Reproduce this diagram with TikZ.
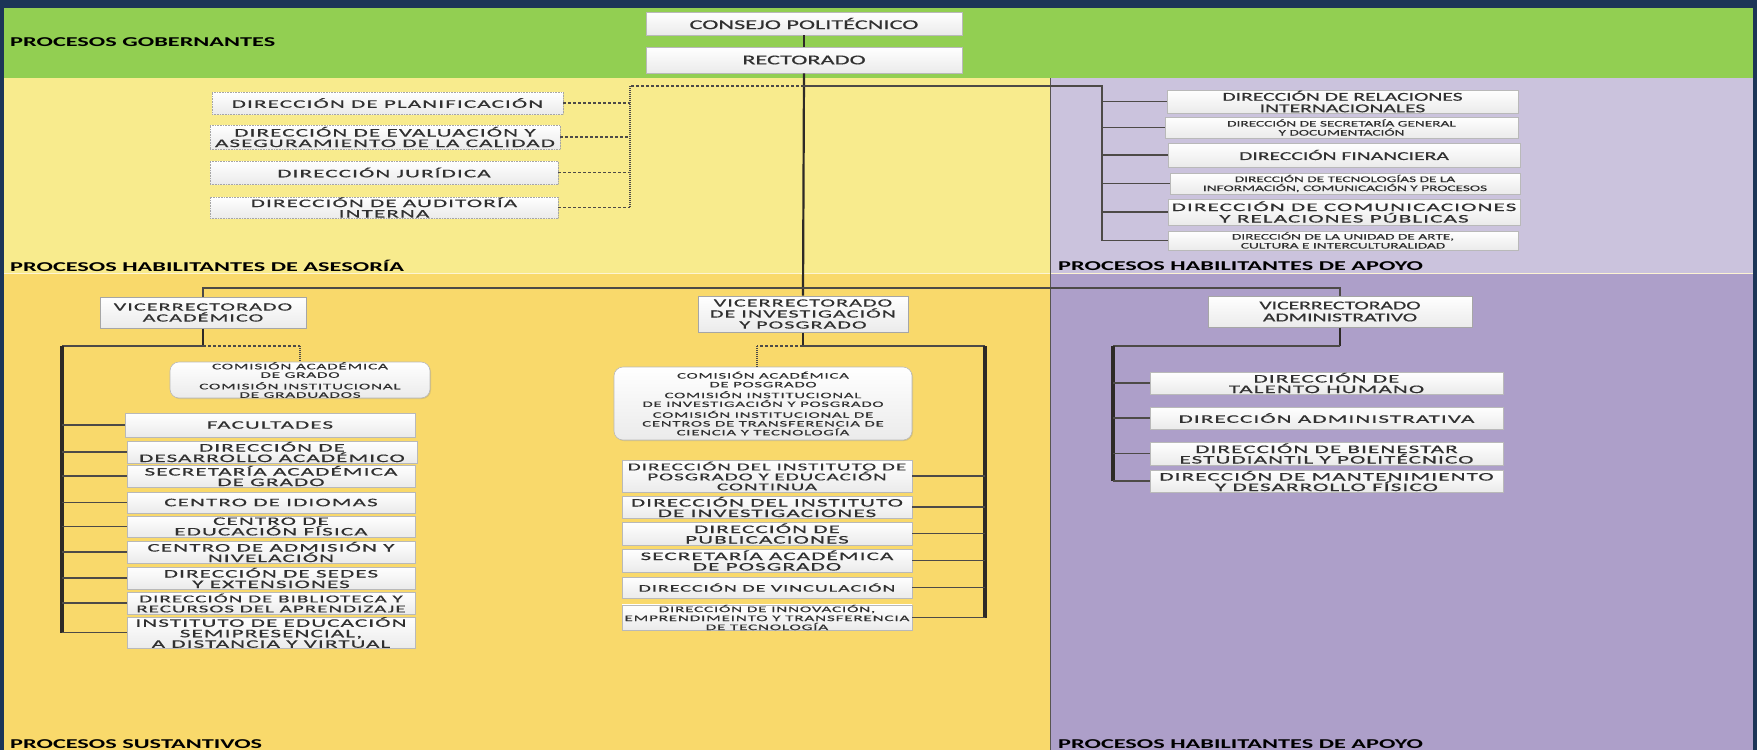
\documentclass[tikz,border=0pt]{standalone}
\usepackage{fontspec}
\setmainfont{Carlito}
\newfontfamily\sF[FakeStretch=1.8,FakeBold=0.5]{Carlito}
\newfontfamily\lF[FakeStretch=1.8]{Carlito}
\newfontfamily\wF[FakeStretch=2.0,LetterSpace=10,FakeBold=0.6]{Carlito}
\usetikzlibrary{shadows}
\definecolor{navy}{HTML}{1C3557}
\definecolor{gob}{HTML}{92CF52}
\definecolor{ylwU}{HTML}{F8EB8D}
\definecolor{ylwL}{HTML}{F9D96B}
\definecolor{purU}{HTML}{CBC3DD}
\definecolor{purL}{HTML}{AD9FC9}
\definecolor{ink}{HTML}{2E2A26}
\definecolor{txt}{HTML}{303030}
\newcommand\bx[7]{\node[#6, minimum width={#4-#2}, minimum height={#5-#3}] (#1) at ({(#2+#4)/2},{(#3+#5)/2}) {#7};}
\tikzset{
  base/.style={inner sep=0pt, align=center, text=txt, draw=gray!55, line width=0.6pt,
    top color=white, bottom color=gray!16,
    drop shadow={opacity=0.25, shadow xshift=1pt, shadow yshift=-1pt}},
  topbox/.style={base, font=\sF\fontsize{13.5}{14}\selectfont},
  vrbox/.style={base, draw=gray!70, line width=1pt, font=\wF\fontsize{11}{11}\selectfont},
  vrabox/.style={base, draw=gray!70, line width=1pt, font=\sF\fontsize{12}{12}\selectfont},
  dbox/.style={base, draw=gray!70, densely dotted, font=\wF\fontsize{11.5}{10.5}\selectfont},
  wbox/.style={base, font=\wF\fontsize{11.5}{10.5}\selectfont},
  wnarrow/.style={base, font=\wF\fontsize{10.5}{10}\selectfont},
  wtight/.style={base, font=\wF\fontsize{10}{10}\selectfont},
  wsmall/.style={base, font=\wF\fontsize{8.5}{9}\selectfont},
  rbox/.style={base, font=\sF\fontsize{12}{11.5}\selectfont},
  rsmall/.style={base, font=\sF\fontsize{8.5}{9}\selectfont},
  rbig/.style={base, font=\wF\fontsize{11.5}{11.5}\selectfont},
  comm/.style={base, rounded corners=9pt, font=\wF\fontsize{8.5}{8.5}\selectfont},
  commb/.style={base, rounded corners=9pt, font=\wF\fontsize{8.3}{8.8}\selectfont},
  lab/.style={inner sep=0pt, text=black, font=\lF\bfseries\fontsize{13.5}{14}\selectfont},
  trunk/.style={draw=ink, line width=2.2pt},
  branch/.style={draw=ink!85, line width=1.3pt},
  thick trunk/.style={draw=ink, line width=4pt},
  dashl/.style={draw=ink!85, line width=1.2pt, dash pattern=on 3pt off 2pt},
  dotl/.style={draw=ink!85, line width=2pt, dash pattern=on 1pt off 1pt},
}
\begin{document}
\begin{tikzpicture}[x=1pt,y=-1pt]
\useasboundingbox (0,0) rectangle (1757,750);
\clip (0,0) rectangle (1757,750);
% backgrounds
\fill[navy] (0,0) rectangle (1757,750);
\fill[gob] (4,8) rectangle (1753,78);
\fill[ylwU] (4,78) rectangle (1050,273);
\fill[ylwL] (4,273) rectangle (1050,750);
\fill[purU] (1050,78) rectangle (1753,273);
\fill[purL] (1050,273) rectangle (1753,750);
\draw[white!70!ylwL, line width=0.8pt] (4,273) -- (1753,273);
\draw[ink!80, line width=1pt] (1050,78) -- (1050,750);
% labels
\node[lab, anchor=west] (lgob) at (10,42) {PROCESOS GOBERNANTES};
\node[lab, anchor=west] (lase) at (10,266) {PROCESOS HABILITANTES DE ASESORÍA};
\node[lab, anchor=west] (lapo) at (1058,266) {PROCESOS HABILITANTES DE APOYO};
\node[lab, anchor=base west] (lsus) at (10,748.5) {PROCESOS SUSTANTIVOS};
\node[lab, anchor=base west] (lapo2) at (1058,748.5) {PROCESOS HABILITANTES DE APOYO};
% governing
\bx{consejo}{646}{12}{962}{35}{topbox}{CONSEJO POLITÉCNICO}
\bx{rector}{646}{47}{962}{73}{topbox}{RECTORADO}
% advisory (dashed)
\bx{plan}{212}{92}{563}{114}{dbox}{DIRECCIÓN DE PLANIFICACIÓN}
\bx{evalu}{210}{125}{560}{149}{dbox}{DIRECCIÓN DE EVALUACIÓN Y\\ASEGURAMIENTO DE LA CALIDAD}
\bx{juri}{210}{161}{558}{184}{dbox}{DIRECCIÓN JURÍDICA}
\bx{audit}{210}{197}{558}{218}{dbox}{DIRECCIÓN DE AUDITORÍA\\INTERNA}
% support (top right)
\bx{rel}{1167}{90}{1518}{113}{rbox}{DIRECCIÓN DE RELACIONES\\INTERNACIONALES}
\bx{secg}{1165}{117}{1518}{138}{rsmall}{DIRECCIÓN DE SECRETARÍA GENERAL\\Y DOCUMENTACIÓN}
\bx{fin}{1168}{143}{1520}{167}{rbox}{DIRECCIÓN FINANCIERA}
\bx{tic}{1170}{173}{1520}{194}{rsmall}{DIRECCIÓN DE TECNOLOGÍAS DE LA\\INFORMACIÓN, COMUNICACIÓN Y PROCESOS}
\bx{com}{1168}{199}{1520}{225}{rbig}{DIRECCIÓN DE COMUNICACIONES\\Y RELACIONES PÚBLICAS}
\bx{arte}{1168}{231}{1518}{250}{rsmall}{DIRECCIÓN DE LA UNIDAD DE ARTE,\\CULTURA E INTERCULTURALIDAD}
% vice-rectorates
\bx{vra}{100}{297}{306}{328}{vrbox}{VICERRECTORADO\\ACADÉMICO}
\bx{vri}{698}{296}{908}{332}{vrbox}{VICERRECTORADO\\DE INVESTIGACIÓN\\Y POSGRADO}
\bx{vrad}{1208}{296}{1472}{327}{vrabox}{VICERRECTORADO\\ADMINISTRATIVO}
% academic
\bx{cga}{170}{362}{430}{398}{comm}{COMISIÓN ACADÉMICA\\DE GRADO\\[3pt]COMISIÓN INSTITUCIONAL\\DE GRADUADOS}
\bx{a1}{125}{413}{415}{437}{wbox}{FACULTADES}
\bx{a2}{127}{441}{417}{463}{wbox}{DIRECCIÓN DE\\DESARROLLO ACADÉMICO}
\bx{a3}{127}{465}{415}{487}{wbox}{SECRETARÍA ACADÉMICA\\DE GRADO}
\bx{a4}{127}{492}{415}{513}{wbox}{CENTRO DE IDIOMAS}
\bx{a5}{127}{516}{415}{537}{wbox}{CENTRO DE\\EDUCACIÓN FÍSICA}
\bx{a6}{127}{541}{415}{563}{wbox}{CENTRO DE ADMISIÓN Y\\NIVELACIÓN}
\bx{a7}{127}{567}{415}{589}{wbox}{DIRECCIÓN DE SEDES\\Y EXTENSIONES}
\bx{a8}{127}{592}{415}{614}{wnarrow}{DIRECCIÓN DE BIBLIOTECA Y\\RECURSOS DEL APRENDIZAJE}
\bx{a9}{127}{617}{415}{648}{wbox}{INSTITUTO DE EDUCACIÓN\\SEMIPRESENCIAL,\\A DISTANCIA Y VIRTUAL}
% research
\bx{cpo}{614}{367}{912}{440}{commb}{COMISIÓN ACADÉMICA\\DE POSGRADO\\[2pt]COMISIÓN INSTITUCIONAL\\DE INVESTIGACIÓN Y POSGRADO\\[2pt]COMISIÓN INSTITUCIONAL DE\\CENTROS DE TRANSFERENCIA DE\\CIENCIA Y TECNOLOGÍA}
\bx{i1}{622}{460}{912}{492}{wnarrow}{DIRECCIÓN DEL INSTITUTO DE\\POSGRADO Y EDUCACIÓN\\CONTINUA}
\bx{i2}{622}{496}{912}{518}{wbox}{DIRECCIÓN DEL INSTITUTO\\DE INVESTIGACIONES}
\bx{i3}{622}{522}{912}{545}{wbox}{DIRECCIÓN DE\\PUBLICACIONES}
\bx{i4}{622}{549}{912}{572}{wbox}{SECRETARÍA ACADÉMICA\\DE POSGRADO}
\bx{i5}{622}{577}{912}{598}{wtight}{DIRECCIÓN DE VINCULACIÓN}
\bx{i6}{622}{605}{912}{630}{wsmall}{DIRECCIÓN DE INNOVACIÓN,\\EMPRENDIMEINTO Y TRANSFERENCIA\\DE TECNOLOGÍA}
% administrative
\bx{d1}{1150}{372}{1503}{394}{wbox}{DIRECCIÓN DE\\TALENTO HUMANO}
\bx{d2}{1150}{407}{1503}{429}{wbox}{DIRECCIÓN ADMINISTRATIVA}
\bx{d3}{1150}{442}{1503}{465}{wbox}{DIRECCIÓN DE BIENESTAR\\ESTUDIANTIL Y POLITÉCNICO}
\bx{d4}{1150}{470}{1503}{492}{wbox}{DIRECCIÓN DE MANTENIMIENTO\\Y DESARROLLO FÍSICO}
% junction coordinates
\coordinate (jr) at (804,86);
\coordinate (jdash) at (630,86);
\coordinate (jsup) at (1102,86);
\coordinate (jvr) at (804,288);
\coordinate (ja) at (62,346);
\coordinate (jadot) at (cga.north |- ja);
\coordinate (ji) at (985,346);
\coordinate (jidot) at (757,346);
\coordinate (jd) at (1113,346);
% connectors governing
\draw[trunk] (consejo.south) -- (rector.north);
\draw[trunk] (rector.south) -- (vri.north);
% advisory dashed
\draw[dashl] (jr) -- (jdash);
\draw[dotl] (jdash) -- (jdash |- audit.east);
\foreach \n in {plan,evalu,juri,audit} \draw[dashl] (\n.east) -- (jdash |- \n.east);
% support top
\draw[branch] (jr) -- (jsup) -- (jsup |- arte.west);
\foreach \n in {rel,secg,fin,tic,com,arte} \draw[branch] (jsup |- \n.west) -- (\n.west);
% vice-rectorates bar
\draw[branch] (vra.north) -- (vra.north |- jvr) -- (vrad.north |- jvr) -- (vrad.north);
% academic subtree
\draw[trunk] (vra.south) -- (vra.south |- ja);
\draw[branch] (vra.south |- ja) -- (ja);
\draw[dashl] (vra.south |- ja) -- (jadot);
\draw[dotl] (jadot) -- (cga.north);
\draw[thick trunk] (ja) -- (ja |- a9.west);
\foreach \n in {a1,a2,a3,a4,a5,a6,a7,a8,a9} \draw[branch] (ja |- \n.west) -- (\n.west);
% research subtree
\draw[trunk] (vri.south) -- (vri.south |- ji);
\draw[branch] (vri.south |- ji) -- (ji);
\draw[dashl] (vri.south |- ji) -- (jidot);
\draw[dotl] (jidot) -- (jidot |- cpo.north);
\draw[thick trunk] (ji) -- (ji |- i6.east);
\foreach \n in {i1,i2,i3,i4,i5,i6} \draw[branch] (\n.east) -- (ji |- \n.east);
% administrative subtree
\draw[trunk] (vrad.south) -- (vrad.south |- jd);
\draw[branch] (vrad.south |- jd) -- (jd);
\draw[thick trunk] (jd) -- (jd |- d4.west);
\foreach \n in {d1,d2,d3,d4} \draw[branch] (jd |- \n.west) -- (\n.west);
\end{tikzpicture}
\end{document}
